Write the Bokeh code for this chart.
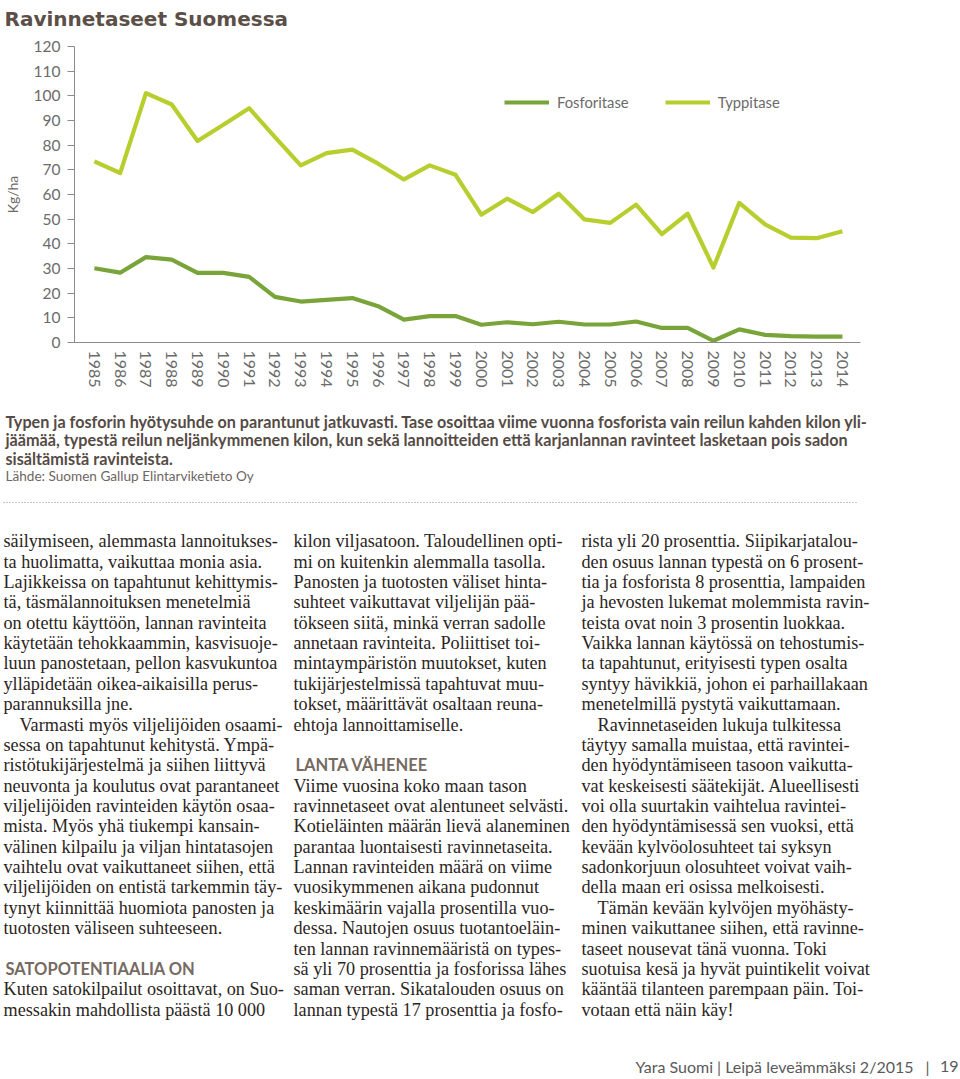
from bokeh.plotting import figure
from bokeh.models import ColumnDataSource, Range1d, FixedTicker, Legend, LegendItem
from bokeh.layouts import column
from bokeh.core.properties import value
from bokeh.embed import file_html
from bokeh.resources import INLINE

# ---------------- data ----------------
title_text = "Ravinnetaseet Suomessa"
years = list(range(1985, 2015))
fosforitase = [30.1, 28.3, 34.6, 33.6, 28.2, 28.2, 26.6, 18.5, 16.6, 17.3, 18.0, 14.7, 9.3, 10.7, 10.7,
               7.2, 8.2, 7.4, 8.4, 7.3, 7.3, 8.5, 5.9, 5.9, 0.7, 5.3, 3.1, 2.6, 2.4, 2.4]
typpitase = [73.4, 68.7, 101.1, 96.5, 81.7, 88.3, 95.0, 83.3, 71.8, 76.8, 78.2, 72.5, 66.1, 71.8, 68.0,
             51.8, 58.3, 52.9, 60.3, 49.9, 48.5, 55.9, 43.9, 52.2, 30.4, 56.6, 47.9, 42.5, 42.3, 45.1]
y_ticks = [0, 10, 20, 30, 40, 50, 60, 70, 80, 90, 100, 110, 120]
series_names = ["Fosforitase", "Typpitase"]
y_label = "Kg/ha"

caption_lines = [
    "Typen ja fosforin hyötysuhde on parantunut jatkuvasti. Tase osoittaa viime vuonna fosforista vain reilun kahden kilon yli-",
    "jäämää, typestä reilun neljänkymmenen kilon, kun sekä lannoitteiden että karjanlannan ravinteet lasketaan pois sadon",
    "sisältämistä ravinteista.",
]
source_line = "Lähde: Suomen Gallup Elintarviketieto Oy"

col1_lines = [
    "säilymiseen, alemmasta lannoitukses-",
    "ta huolimatta, vaikuttaa monia asia.",
    "Lajikkeissa on tapahtunut kehittymis-",
    "tä, täsmälannoituksen menetelmiä",
    "on otettu käyttöön, lannan ravinteita",
    "käytetään tehokkaammin, kasvisuoje-",
    "luun panostetaan, pellon kasvukuntoa",
    "ylläpidetään oikea-aikaisilla perus-",
    "parannuksilla jne.",
    "Varmasti myös viljelijöiden osaami-",
    "sessa on tapahtunut kehitystä. Ympä-",
    "ristötukijärjestelmä ja siihen liittyvä",
    "neuvonta ja koulutus ovat parantaneet",
    "viljelijöiden ravinteiden käytön osaa-",
    "mista. Myös yhä tiukempi kansain-",
    "välinen kilpailu ja viljan hintatasojen",
    "vaihtelu ovat vaikuttaneet siihen, että",
    "viljelijöiden on entistä tarkemmin täy-",
    "tynyt kiinnittää huomiota panosten ja",
    "tuotosten väliseen suhteeseen.",
    "",
    "SATOPOTENTIAALIA ON",
    "Kuten satokilpailut osoittavat, on Suo-",
    "messakin mahdollista päästä 10 000",
]
col2_lines = [
    "kilon viljasatoon. Taloudellinen opti-",
    "mi on kuitenkin alemmalla tasolla.",
    "Panosten ja tuotosten väliset hinta-",
    "suhteet vaikuttavat viljelijän pää-",
    "tökseen siitä, minkä verran sadolle",
    "annetaan ravinteita. Poliittiset toi-",
    "mintaympäristön muutokset, kuten",
    "tukijärjestelmissä tapahtuvat muu-",
    "tokset, määrittävät osaltaan reuna-",
    "ehtoja lannoittamiselle.",
    "",
    "LANTA VÄHENEE",
    "Viime vuosina koko maan tason",
    "ravinnetaseet ovat alentuneet selvästi.",
    "Kotieläinten määrän lievä alaneminen",
    "parantaa luontaisesti ravinnetaseita.",
    "Lannan ravinteiden määrä on viime",
    "vuosikymmenen aikana pudonnut",
    "keskimäärin vajalla prosentilla vuo-",
    "dessa. Nautojen osuus tuotantoeläin-",
    "ten lannan ravinnemääristä on types-",
    "sä yli 70 prosenttia ja fosforissa lähes",
    "saman verran. Sikatalouden osuus on",
    "lannan typestä 17 prosenttia ja fosfo-",
]
col3_lines = [
    "rista yli 20 prosenttia. Siipikarjatalou-",
    "den osuus lannan typestä on 6 prosent-",
    "tia ja fosforista 8 prosenttia, lampaiden",
    "ja hevosten lukemat molemmista ravin-",
    "teista ovat noin 3 prosentin luokkaa.",
    "Vaikka lannan käytössä on tehostumis-",
    "ta tapahtunut, erityisesti typen osalta",
    "syntyy hävikkiä, johon ei parhaillakaan",
    "menetelmillä pystytä vaikuttamaan.",
    "Ravinnetaseiden lukuja tulkitessa",
    "täytyy samalla muistaa, että ravintei-",
    "den hyödyntämiseen tasoon vaikutta-",
    "vat keskeisesti säätekijät. Alueellisesti",
    "voi olla suurtakin vaihtelua ravintei-",
    "den hyödyntämisessä sen vuoksi, että",
    "kevään kylvöolosuhteet tai syksyn",
    "sadonkorjuun olosuhteet voivat vaih-",
    "della maan eri osissa melkoisesti.",
    "Tämän kevään kylvöjen myöhästy-",
    "minen vaikuttanee siihen, että ravinne-",
    "taseet nousevat tänä vuonna. Toki",
    "suotuisa kesä ja hyvät puintikelit voivat",
    "kääntää tilanteen parempaan päin. Toi-",
    "votaan että näin käy!",
]
columns_text = [col1_lines, col2_lines, col3_lines]
indent_rows = [[9], [], [9, 18]]
heading_rows = [[21], [11], []]
footer_main = "Yara Suomi | Leipä leveämmäksi 2/2015"
footer_sep = "|"
footer_page = "19"

# ---------------- styles ----------------
W = 960
SANS = "Lato"
SERIF = "Liberation Serif"
C_FOS = "#79a43a"
C_TYP = "#b7ce2e"
C_AXIS = "#8a8a8a"
C_TICK = "#6b6b6b"
C_HEAD = "#5b4f48"


def canvas(h):
    f = figure(width=W, height=h, x_range=Range1d(0, W), y_range=Range1d(h, 0),
               output_backend="svg", toolbar_location=None, tools="",
               min_border=0, min_border_left=0, min_border_right=0,
               min_border_top=0, min_border_bottom=0, frame_align=False)
    f.axis.visible = False
    f.grid.visible = False
    f.outline_line_color = None
    return f


# ---- title strip ----
H_T = 38
pt = canvas(H_T)
pt.text(x=[4], y=[18.5], text=[title_text], text_font=value("DejaVu Sans"), text_font_style="bold",
        text_font_size="20px", text_color=C_HEAD, text_baseline="alphabetic")

# ---- chart ----
H_A = 360
p = figure(width=W, height=H_A, x_range=Range1d(1984.23, 2014.70), y_range=Range1d(0, 120),
           output_backend="svg", toolbar_location=None, tools="", frame_align=False,
           min_border_left=67, min_border_right=100, min_border_top=8, min_border_bottom=56)
p.grid.visible = False
p.outline_line_color = None

src = ColumnDataSource(dict(year=years, fos=fosforitase, typ=typpitase))
r_fos = p.line("year", "fos", source=src, line_color=C_FOS, line_width=4.2, line_join="round")
r_typ = p.line("year", "typ", source=src, line_color=C_TYP, line_width=4.2, line_join="round")

p.yaxis.ticker = FixedTicker(ticks=y_ticks)
p.xaxis.ticker = FixedTicker(ticks=years)
p.xaxis.major_label_orientation = "vertical"
for ax in (p.xaxis[0], p.yaxis[0]):
    ax.axis_line_color = C_AXIS
    ax.axis_line_width = 1
    ax.minor_tick_line_color = None
    ax.major_label_text_font = SANS
    ax.major_label_text_color = C_TICK
p.yaxis.major_tick_out = 7
p.yaxis.major_tick_in = 0
p.yaxis.major_tick_line_color = C_AXIS
p.yaxis.major_label_standoff = 7
p.yaxis.major_label_text_font_size = "15.5px"
p.xaxis.major_tick_line_color = None
p.xaxis.major_tick_out = 0
p.xaxis.major_tick_in = 0
p.xaxis.major_label_standoff = 8
p.xaxis.major_label_text_font_size = "16px"
p.yaxis.axis_label = y_label
p.yaxis.axis_label_text_font = SANS
p.yaxis.axis_label_text_font_style = "normal"
p.yaxis.axis_label_text_font_size = "14px"
p.yaxis.axis_label_text_color = C_TICK
p.yaxis.axis_label_standoff = 10

legend = Legend(items=[LegendItem(label=series_names[0], renderers=[r_fos]),
                       LegendItem(label=series_names[1], renderers=[r_typ])],
                orientation="horizontal", location=(430, 231),
                glyph_width=45, glyph_height=14, label_standoff=8, spacing=36,
                padding=0, margin=0, border_line_alpha=0, background_fill_alpha=0,
                label_text_font=SANS, label_text_font_size="14.8px", label_text_color=C_TICK)
p.add_layout(legend)

# ---- text page ----
H_B = 679
pb = canvas(H_B)

cap_y = [22.5, 41, 59.5]
pb.text(x=[5] * len(caption_lines), y=cap_y, text=caption_lines, text_font=value(SANS),
        text_font_style="bold", text_font_size="16.2px", text_color="#554b46",
        text_baseline="alphabetic")
pb.text(x=[5], y=[77], text=[source_line], text_font=value(SANS), text_font_size="13.6px",
        text_color="#6e6662", text_baseline="alphabetic")
pb.segment(x0=[3], y0=[104], x1=[858], y1=[104], line_color="#8c8c8c", line_width=1,
           line_dash="1 2")

base0 = 142.7
lh = 20.37
col_x = [3, 293, 581]
indent = 16
bx, by, bt, hx, hy, ht = [], [], [], [], [], []
for ci, lines in enumerate(columns_text):
    for i, t in enumerate(lines):
        if not t:
            continue
        y = base0 + i * lh
        if i in heading_rows[ci]:
            hx.append(col_x[ci] + 2); hy.append(y); ht.append(t)
        else:
            bx.append(col_x[ci] + (indent if i in indent_rows[ci] else 0)); by.append(y); bt.append(t)

pb.text(x="x", y="y", text="t", source=ColumnDataSource(dict(x=bx, y=by, t=bt)),
        text_font=value(SERIF), text_font_size="18.2px", text_color="#2b2522",
        text_baseline="alphabetic")
pb.text(x="x", y="y", text="t", source=ColumnDataSource(dict(x=hx, y=hy, t=ht)),
        text_font=value(SANS), text_font_style="bold", text_font_size="16.5px",
        text_color="#766a62", text_baseline="alphabetic")

pb.text(x=[913, 927, 958], y=[668, 668, 668], text=[footer_main, footer_sep, footer_page],
        text_font=value(SANS), text_font_size="16px", text_color="#5a5a5a",
        text_baseline="alphabetic", text_align=["right", "center", "right"])

layout = column(pt, p, pb, spacing=0)
open("out.html", "w").write(file_html(layout, INLINE))
